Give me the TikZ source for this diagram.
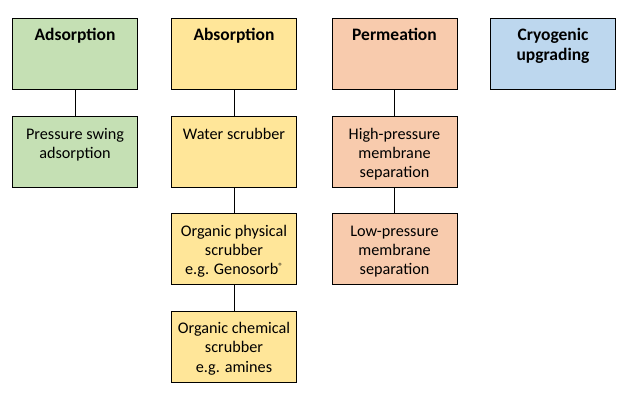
\documentclass[tikz,border=0pt]{standalone}
\usepackage{fontspec}
\setmainfont{Carlito}
\usetikzlibrary{calc}
\definecolor{cgreen}{HTML}{C5E0B4}
\definecolor{cyellow}{HTML}{FFE699}
\definecolor{corange}{HTML}{F8CBAD}
\definecolor{cblue}{HTML}{BDD7EE}
\newcommand{\mystrut}{\rule{0pt}{14pt}}
\newcommand{\myreg}{\raisebox{5pt}{\fontsize{9}{9}\selectfont ®}}
\tikzset{
  box/.style={draw=black, line width=1pt, minimum width=125pt, minimum height=71pt, inner sep=0pt, anchor=north west},
  lbl/.style={anchor=north, align=center, font=\fontsize{16.2}{19.2}\selectfont, inner sep=0pt},
  ttl/.style={anchor=north, align=center, font=\fontsize{17.5}{20.5}\selectfont\bfseries, inner sep=0pt},
  link/.style={draw=black, line width=1pt}
}
\begin{document}
\begin{tikzpicture}[x=1pt,y=-1pt]
\useasboundingbox[fill=white] (0,0) rectangle (642,413);
% row 1
\node[box, fill=cgreen] (ads) at (12,18) {};
\node[box, fill=cyellow] (abs) at (171,18) {};
\node[box, fill=corange] (perm) at (331.5,18) {};
\node[box, fill=cblue] (cryo) at (490,18) {};
% row 2
\node[box, fill=cgreen] (psa) at (12,116) {};
\node[box, fill=cyellow] (ws) at (171,116) {};
\node[box, fill=corange] (hpm) at (331.5,116) {};
% row 3
\node[box, fill=cyellow] (ops) at (171,213) {};
\node[box, fill=corange] (lpm) at (331.5,213) {};
% row 4
\node[box, fill=cyellow] (ocs) at (171,310.5) {};
% texts (first baseline 14pt below node top)
\node[ttl] (tads) at ($(ads.north)+(0,8)$) {\mystrut Adsorption};
\node[ttl] (tabs) at ($(abs.north)+(0,8)$) {\mystrut Absorption};
\node[ttl] (tperm) at ($(perm.north)+(0,8)$) {\mystrut Permeation};
\node[ttl] (tcryo) at ($(cryo.north)+(0,8)$) {\mystrut Cryogenic\\upgrading};
\node[lbl] (tpsa) at ($(psa.north)+(0,9)$) {\mystrut Pressure swing\\adsorption};
\node[lbl] (tws) at ($(ws.north)+(0,9)$) {\mystrut Water scrubber};
\node[lbl] (thpm) at ($(hpm.north)+(0,9)$) {\mystrut High-pressure\\membrane\\separation};
\node[lbl] (tops) at ($(ops.north)+(0,9)$) {\mystrut Organic physical\\scrubber\\e.g. Genosorb\myreg};
\node[lbl] (tlpm) at ($(lpm.north)+(0,9)$) {\mystrut Low-pressure\\membrane\\separation};
\node[lbl] (tocs) at ($(ocs.north)+(0,9)$) {\mystrut Organic chemical\\scrubber\\e.g. amines};
% connectors
\draw[link] (ads.south) -- (psa.north);
\draw[link] (abs.south) -- (ws.north);
\draw[link] (ws.south) -- (ops.north);
\draw[link] (ops.south) -- (ocs.north);
\draw[link] (perm.south) -- (hpm.north);
\draw[link] (hpm.south) -- (lpm.north);
\end{tikzpicture}
\end{document}
